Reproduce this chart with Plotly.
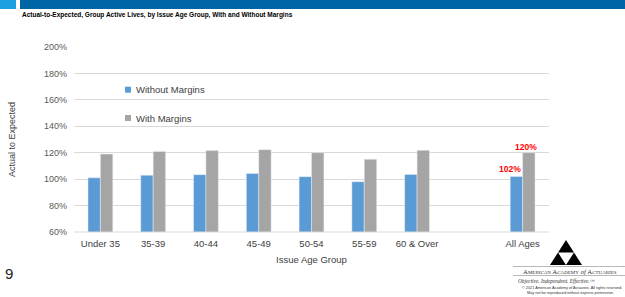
import plotly.graph_objects as go

categories = ["Under 35", "35-39", "40-44", "45-49", "50-54", "55-59", "60 & Over", " ", "All Ages"]
without_margins = [101, 103, 103.4, 104.2, 101.9, 98, 103.6, None, 102]
with_margins = [119, 121, 121.6, 122.3, 120, 115, 121.8, None, 120]
labels_without = ["", "", "", "", "", "", "", "", "102%"]
labels_with = ["", "", "", "", "", "", "", "", "120%"]
y_ticks = [60, 80, 100, 120, 140, 160, 180, 200]
series_names = ["Without Margins", "With Margins"]
series_colors = ["#5b9bd5", "#a5a5a5"]

L, T, W, H = 74, 47, 475, 185


def px(x):
    return (x - L) / W


def py(y):
    return (T + H - y) / H


fig = go.Figure()
for name, vals, col in [(series_names[0], without_margins, series_colors[0]),
                        (series_names[1], with_margins, series_colors[1])]:
    fig.add_trace(go.Bar(x=categories, y=vals, name=name, marker_color=col, hoverinfo="skip"))

shapes = [
    dict(type="rect", xref="paper", yref="paper", x0=px(0), x1=px(16),
         y0=py(9), y1=py(0), fillcolor="#1ba1e2", line_width=0),
    dict(type="rect", xref="paper", yref="paper", x0=px(20), x1=px(625),
         y0=py(9), y1=py(0), fillcolor="#0065a4", line_width=0),
    dict(type="line", xref="paper", yref="paper", x0=0, x1=1, y0=0, y1=0,
         line=dict(color="#d9d9d9", width=1)),
    # logo
    dict(type="path", xref="paper", yref="paper",
         path=f"M {px(566)},{py(240)} L {px(550)},{py(265)} L {px(582)},{py(265)} Z",
         fillcolor="black", line_width=0),
    dict(type="path", xref="paper", yref="paper",
         path=f"M {px(558)},{py(252.5)} L {px(574)},{py(252.5)} L {px(566)},{py(265)} Z",
         fillcolor="white", line_width=0),
    dict(type="line", xref="paper", yref="paper", x0=px(513), x1=px(625),
         y0=py(266.5), y1=py(266.5), line=dict(color="#888888", width=0.6)),
    dict(type="line", xref="paper", yref="paper", x0=px(513), x1=px(625),
         y0=py(275.5), y1=py(275.5), line=dict(color="#888888", width=0.6)),
]
annotations = [
    dict(text="<b>Actual-to-Expected, Group Active Lives, by Issue Age Group, With and Without Margins</b>",
         xref="paper", yref="paper", x=px(20), y=py(15), xanchor="left", yanchor="middle",
         showarrow=False, font=dict(size=6.5, color="#000000", family="Liberation Sans")),
    dict(text="9", xref="paper", yref="paper", x=px(3), y=py(273),
         xanchor="left", yanchor="middle", showarrow=False,
         font=dict(size=15, color="#222222")),
    dict(text="A<span style='font-size:5px'>MERICAN</span> A<span style='font-size:5px'>CADEMY</span> <i>of</i> A<span style='font-size:5px'>CTUARIES</span>",
         xref="paper", yref="paper", x=px(570), y=py(271),
         xanchor="center", yanchor="middle", showarrow=False,
         font=dict(size=6.8, color="#333333", family="Liberation Serif")),
    dict(text="<i>Objective. Independent. Effective.™</i>",
         xref="paper", yref="paper", x=px(557), y=py(281),
         xanchor="center", yanchor="middle", showarrow=False,
         font=dict(size=5.3, color="#333333", family="Liberation Serif")),
    dict(text="© 2021 American Academy of Actuaries. All rights reserved.",
         xref="paper", yref="paper", x=px(572), y=py(287.5),
         xanchor="center", yanchor="middle", showarrow=False,
         font=dict(size=3.8, color="#333333")),
    dict(text="May not be reproduced without express permission.",
         xref="paper", yref="paper", x=px(570), y=py(292.5),
         xanchor="center", yanchor="middle", showarrow=False,
         font=dict(size=3.8, color="#333333")),
]
# data labels
for labs, vals, xs, ys in [(labels_without, without_margins, -13, 8),
                           (labels_with, with_margins, 3, 6)]:
    for c, lab, v in zip(categories, labs, vals):
        if lab:
            annotations.append(dict(text=f"<b>{lab}</b>", x=c, y=v, xref="x", yref="y",
                                    xshift=xs, yshift=ys, showarrow=False,
                                    xanchor="center", yanchor="middle",
                                    font=dict(size=8.5, color="#ff0000", family="Liberation Sans")))
# manual legend
for i, (name, col) in enumerate(zip(series_names, series_colors)):
    yc = 89.7 + i * 28.3
    shapes.append(dict(type="rect", xref="paper", yref="paper", x0=px(125), x1=px(131),
                       y0=py(yc + 3), y1=py(yc - 3), fillcolor=col, line_width=0))
    annotations.append(dict(text=name, xref="paper", yref="paper", x=px(134), y=py(yc),
                            xanchor="left", yanchor="middle", showarrow=False,
                            font=dict(size=9.5, color="#404040")))

fig.update_layout(
    width=625, height=297,
    margin=dict(l=L, r=625 - L - W, t=T, b=297 - T - H),
    paper_bgcolor="white", plot_bgcolor="white",
    barmode="group", bargap=0.53, bargroupgap=0,
    font=dict(family="Liberation Sans", size=9, color="#404040"),
    showlegend=False,
    hovermode=False,
    xaxis=dict(type="category", showgrid=False, showline=False, ticks="",
               tickfont=dict(size=9.5, color="#404040"), ticklabelstandoff=4,
               title=dict(text="Issue Age Group", font=dict(size=9.5, color="#404040"), standoff=8)),
    yaxis=dict(range=[60, 200], tickvals=y_ticks,
               ticktext=[f"{v}%" for v in y_ticks],
               showgrid=True, gridcolor="#d9d9d9", gridwidth=1,
               zeroline=False, showline=False, ticks="",
               tickfont=dict(size=9, color="#595959"), ticklabelstandoff=6,
               title=dict(text="Actual to Expected", font=dict(size=9, color="#404040"), standoff=26)),
    shapes=shapes,
    annotations=annotations,
)

fig.write_html("out.html", config={"displayModeBar": False},
               post_script="document.body.style.margin='0';")
